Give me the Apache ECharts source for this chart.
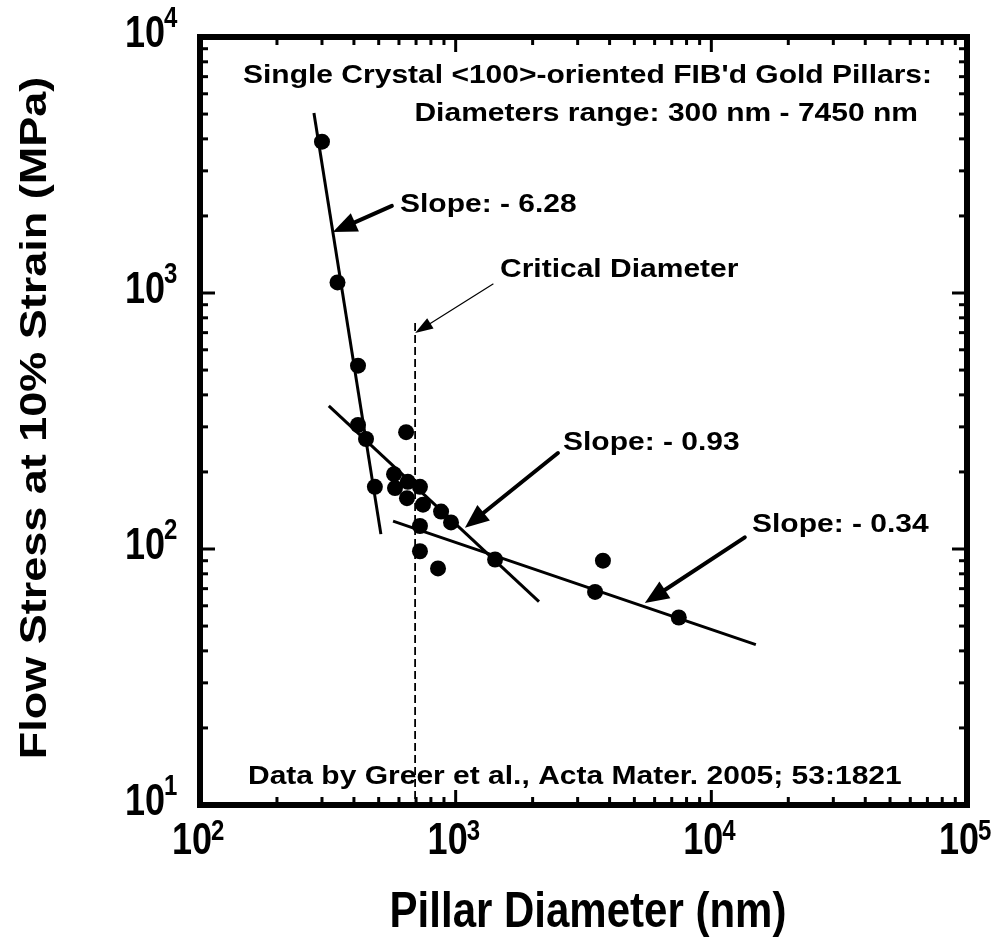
<!DOCTYPE html>
<html>
<head>
<meta charset="utf-8">
<script src="https://cdn.jsdelivr.net/npm/echarts@6/dist/echarts.min.js"></script>
<style>
  html, body { margin: 0; padding: 0; background: #fff; }
  #chart { width: 1002px; height: 940px; }
</style>
</head>
<body>
<div id="chart"></div>
<script>
// Pillar diameter (nm) and flow stress at 10% strain (MPa)
const diameters = [300, 345, 415, 415, 446, 483, 640, 574, 579, 650, 725, 645, 745, 877, 959, 725, 725, 853, 1426, 3767, 3510, 7460];
const stresses  = [3900, 1100, 520, 305, 269, 175, 286, 196, 173, 183, 175, 158, 149, 140, 127, 123, 98, 84, 91, 90, 68, 54];

// Power-law fits: start point, end diameter and the fitted slope
const fitSlopes = [-6.28, -0.93, -0.34];
const fitStarts = [[279, 5050], [319, 362], [569, 128.5]];
const fitEndX   = [510, 2118, 14930];
const slopeLabels = ['Slope: - 6.28', 'Slope: - 0.93', 'Slope: - 0.34'];

// Critical diameter marker (nm) and its vertical extent (MPa)
const criticalDiameter = 694;
const criticalRange = [764, 10];

// Axis decades
const xDecades = [100, 1000, 10000, 100000];
const xExponents = ['2', '3', '4', '5'];
const yDecades = [10, 100, 1000, 10000];
const yExponents = ['1', '2', '3', '4'];

// Arrow tails and tips in data space [diameter, stress]
const arrowTails = [[563, 2188], [1400, 1084], [2512, 237], [13520, 111]];
const arrowTips  = [[331, 1730], [694, 698], [1087, 121], [5495, 61.5]];

const FONT = '"Liberation Sans", Arial, Helvetica, sans-serif';

(function () {
  const points = diameters.map((d, i) => [d, stresses[i]]);
  const fitLines = fitSlopes.map((s, i) => {
    const [x0, y0] = fitStarts[i];
    const x1 = fitEndX[i];
    return [[x0, y0], [x1, y0 * Math.pow(x1 / x0, s)]];
  });

  const chart = echarts.init(document.getElementById('chart'), null, { renderer: 'canvas' });

  const hiddenAxis = {
    type: 'log', logBase: 10,
    axisLine: { show: false }, axisTick: { show: false },
    axisLabel: { show: false }, splitLine: { show: false }
  };

  const series = [];
  fitLines.forEach(line => {
    series.push({
      type: 'line', data: line, symbol: 'none', z: 2,
      lineStyle: { color: '#000', width: 3 }
    });
  });
  series.push({
    type: 'line',
    data: [[criticalDiameter, criticalRange[0]], [criticalDiameter, criticalRange[1]]],
    symbol: 'none', z: 2,
    lineStyle: { color: '#000', width: 1.8, type: [8, 4] }
  });
  series.push({
    type: 'scatter', data: points, symbol: 'circle', symbolSize: 16, z: 3,
    itemStyle: { color: '#000', opacity: 1 }
  });

  chart.setOption({
    animation: false,
    backgroundColor: '#fff',
    grid: {
      left: 200, right: 35, top: 37, bottom: 135,
      show: true, borderWidth: 6, borderColor: '#000', backgroundColor: 'transparent'
    },
    xAxis: Object.assign({ min: 100, max: 100000 }, hiddenAxis),
    yAxis: Object.assign({ min: 10, max: 10000 }, hiddenAxis),
    series: series
  });

  const px = (x, y) => chart.convertToPixel({ xAxisIndex: 0, yAxisIndex: 0 }, [x, y]);

  function text(str, x, y, opts) {
    const o = opts || {};
    return {
      type: 'text', x: x, y: y, z: 10,
      rotation: o.rotation || 0,
      scaleX: o.scaleX || 1, scaleY: o.scaleY || 1,
      style: {
        text: str, fill: '#000',
        font: 'bold ' + (o.size || 30) + 'px ' + FONT,
        textAlign: o.align || 'left', align: o.align || 'left',
        textVerticalAlign: 'middle', verticalAlign: 'middle'
      }
    };
  }

  function arrow(tail, tip, headLen, headHalf, width) {
    const dx = tip[0] - tail[0], dy = tip[1] - tail[1];
    const L = Math.hypot(dx, dy), ux = dx / L, uy = dy / L;
    const bx = tip[0] - ux * headLen, by = tip[1] - uy * headLen;
    const nx = -uy, ny = ux;
    return [
      { type: 'line', z: 9, shape: { x1: tail[0], y1: tail[1], x2: bx + ux * 2, y2: by + uy * 2 },
        style: { stroke: '#000', lineWidth: width, lineCap: 'round' } },
      { type: 'polygon', z: 9,
        shape: { points: [[tip[0], tip[1]], [bx + nx * headHalf, by + ny * headHalf], [bx - nx * headHalf, by - ny * headHalf]] },
        style: { fill: '#000' } }
    ];
  }

  const g = [];
  const bl = px(100, 10), tr = px(100000, 10000);
  const gL = bl[0], gB = bl[1], gR = tr[0], gT = tr[1];

  // Inward ticks on all four sides, majors at decades and minors at 2..9
  function addTick(pos, major, vertical) {
    const len = major ? 15 : 8;
    const st = { stroke: '#000', lineWidth: 3 };
    if (vertical) {
      g.push({ type: 'line', z: 8, shape: { x1: pos, y1: gB, x2: pos, y2: gB - len }, style: st });
      g.push({ type: 'line', z: 8, shape: { x1: pos, y1: gT, x2: pos, y2: gT + len }, style: st });
    } else {
      g.push({ type: 'line', z: 8, shape: { x1: gL, y1: pos, x2: gL + len, y2: pos }, style: st });
      g.push({ type: 'line', z: 8, shape: { x1: gR, y1: pos, x2: gR - len, y2: pos }, style: st });
    }
  }
  xDecades.forEach((d, i) => {
    addTick(px(d, 10)[0], true, true);
    if (i < xDecades.length - 1) for (let m = 2; m <= 9; m++) addTick(px(d * m, 10)[0], false, true);
  });
  yDecades.forEach((d, i) => {
    addTick(px(100, d)[1], true, false);
    if (i < yDecades.length - 1) for (let m = 2; m <= 9; m++) addTick(px(100, d * m)[1], false, false);
  });

  // Decade labels with superscript exponents
  xDecades.forEach((d, i) => {
    const x = px(d, 10)[0];
    g.push(text('10', x + 12, gB + 37, { align: 'right', size: 36, scaleY: 1.25 }));
    g.push(text(xExponents[i], x + 11, gB + 27, { align: 'left', size: 24, scaleY: 1.25 }));
  });
  yDecades.forEach((d, i) => {
    const y = px(100, d)[1];
    g.push(text('10', gL - 35, y - 2, { align: 'right', size: 36, scaleY: 1.25 }));
    g.push(text(yExponents[i], gL - 36, y - 18, { align: 'left', size: 24, scaleY: 1.25 }));
  });

  // Axis titles
  g.push(text('Pillar Diameter (nm)', 588, 913, { align: 'center', size: 42, scaleY: 1.2 }));
  g.push(text('Flow Stress at 10% Strain (MPa)', 36, 418, { align: 'center', size: 36, scaleX: 1.25, rotation: Math.PI / 2 }));

  // Annotations
  const ann = { size: 30, scaleY: 0.88 };
  g.push(text('Single Crystal <100>-oriented FIB\'d Gold Pillars:', 932, 76, Object.assign({ align: 'right' }, ann)));
  g.push(text('Diameters range: 300 nm - 7450 nm', 918, 114, Object.assign({ align: 'right' }, ann)));
  g.push(text(slopeLabels[0], 400, 205, ann));
  g.push(text('Critical Diameter', 500, 270, ann));
  g.push(text(slopeLabels[1], 563, 443, ann));
  g.push(text(slopeLabels[2], 752, 525, ann));
  g.push(text('Data by Greer et al., Acta Mater. 2005; 53:1821', 248, 777, ann));

  // Arrows pointing at the fits and the critical diameter
  arrowTails.forEach((t, i) => {
    const thin = i === 1;
    g.push(...arrow(px(t[0], t[1]), px(arrowTips[i][0], arrowTips[i][1]),
      thin ? 18 : 24, thin ? 6 : 10, thin ? 1.2 : 4));
  });

  chart.setOption({ graphic: { elements: g } });
})();
</script>
</body>
</html>
